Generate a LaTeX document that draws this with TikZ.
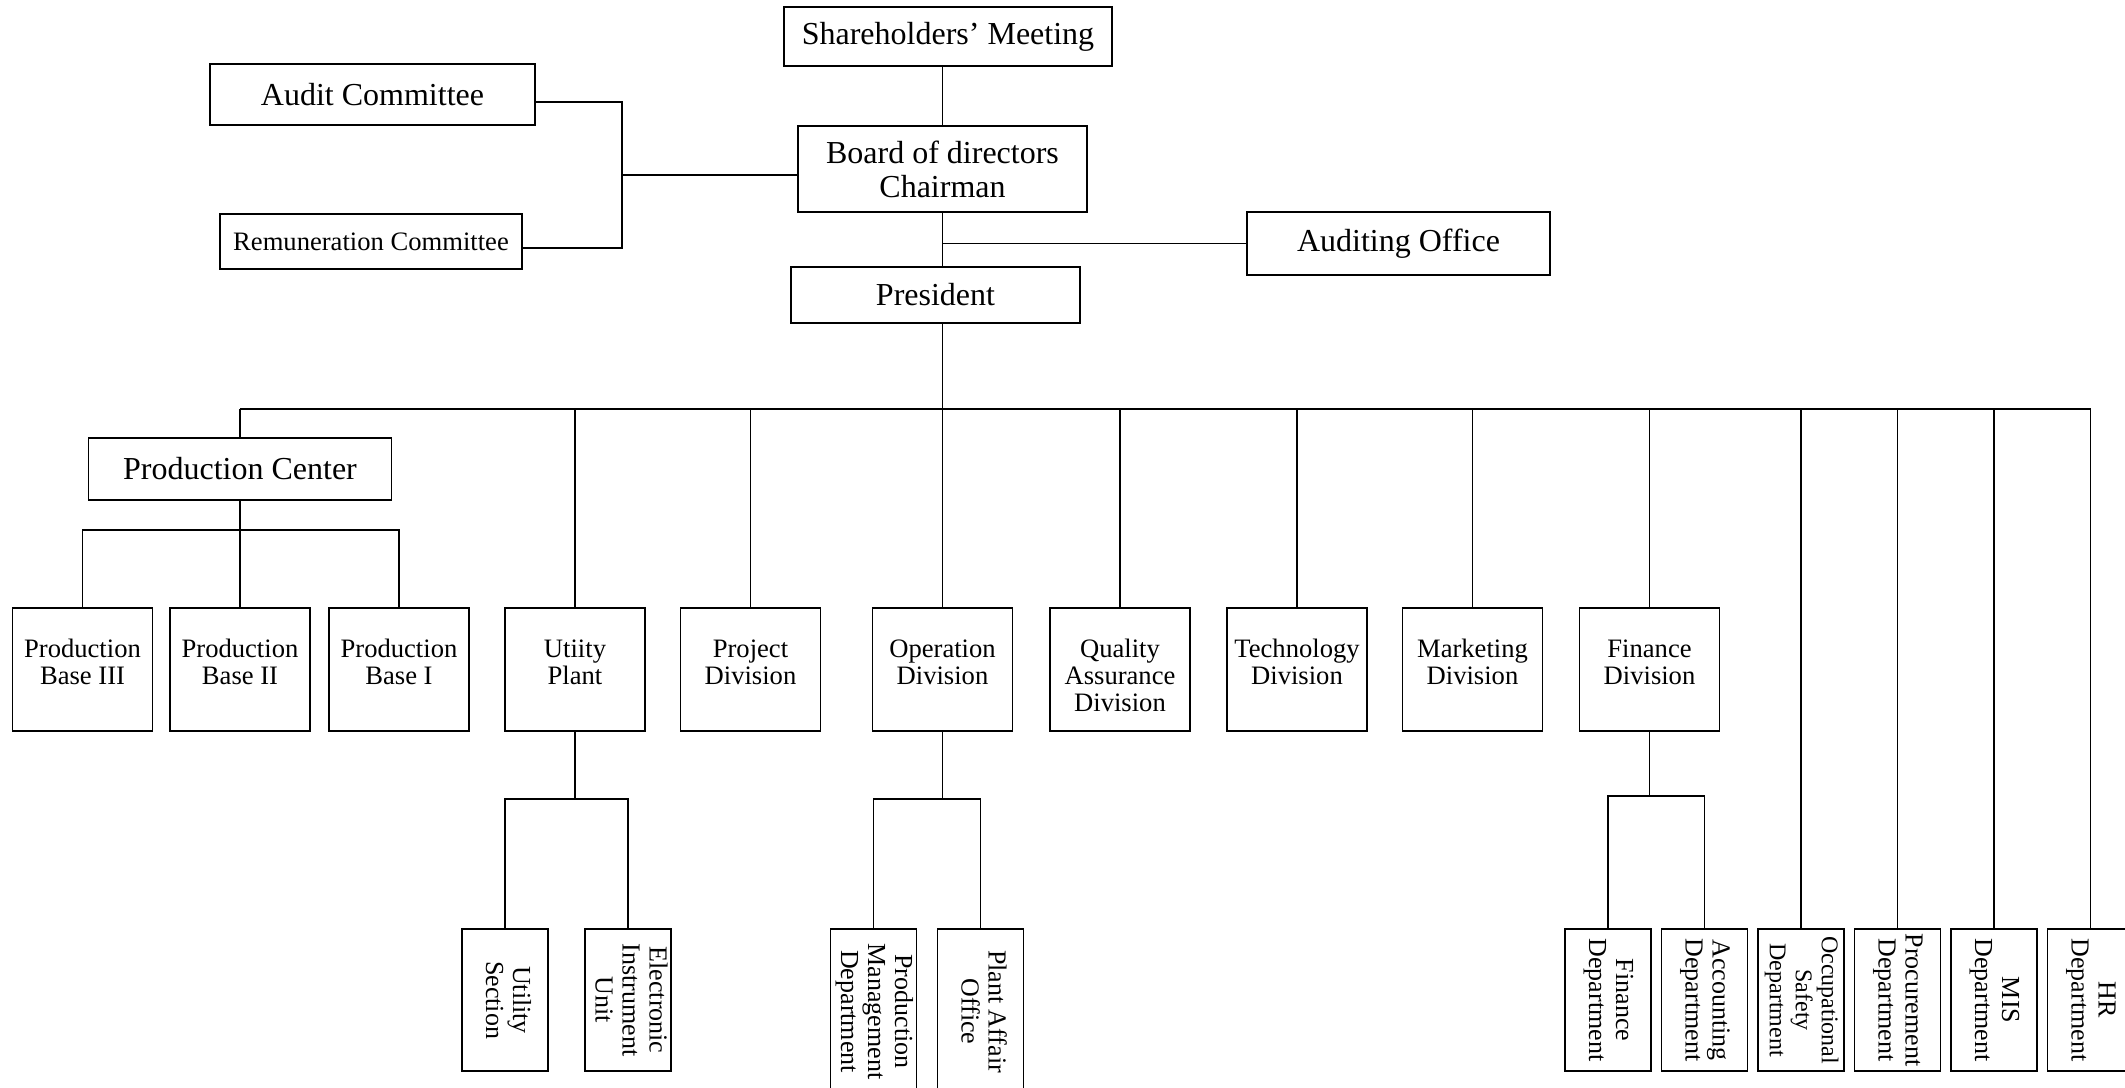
\documentclass[tikz,border=0pt]{standalone}
\usepackage{fontspec}
\setmainfont{Liberation Serif}
\usepackage{graphicx}
\usetikzlibrary{positioning}

\newcommand{\sidetext}[1]{\rotatebox{-90}{\begin{tabular}{@{}c@{}}#1\end{tabular}}}
\newcommand{\divtext}[1]{\begin{tabular}[t]{@{}c@{}}#1\end{tabular}}

\begin{document}
\begin{tikzpicture}
    [x=1pt, y=1pt,
    topbox/.style={rectangle, draw=black, line width=0.9pt, outer sep=0pt, text centered, align=center, font=\fontsize{16}{17}\selectfont},
    divbox/.style={rectangle, draw=black, line width=0.9pt, outer sep=0pt, minimum width=70pt, minimum height=61.5pt, inner sep=2pt, text height=22.8pt, text depth=34.7pt, font=\fontsize{13.3}{13.5}\selectfont},
    deptbox/.style={rectangle, draw=black, line width=0.9pt, outer sep=0pt, minimum width=43pt, minimum height=71pt, inner sep=0pt, font=\fontsize{13}{13.5}\selectfont},
    link/.style={line width=0.75pt}]
    \useasboundingbox (0,0) rectangle (1062.5,-543.5);
    \clip (0,0) rectangle (1062.5,-543.5);

    \node (board) at (471.25,-84.5) [topbox, minimum width=144.5pt, minimum height=43pt] {Board of directors\\Chairman};
    \node (meeting) [topbox, above=30pt of board, xshift=2.75pt, minimum width=164pt, minimum height=29.5pt] {Shareholders' Meeting};
    \draw[link] (board.north) -- (board.north |- meeting.south);

    \node (audit) [topbox, left=131.5pt of board, yshift=37.25pt, minimum width=162.5pt, minimum height=30.5pt] {Audit Committee};
    \node (remun) [topbox, below=44.5pt of audit, xshift=-0.75pt, minimum width=151pt, minimum height=27.5pt, font=\fontsize{13.3}{14}\selectfont] {Remuneration Committee};
    \coordinate [left=88pt of board.west, yshift=-3pt] (brk);
    \draw[link] ([yshift=-3pt]board.west) -- (brk);
    \draw[link] ([yshift=-3.75pt]audit.east) -| (brk) |- ([yshift=-3.25pt]remun.east);

    \node (president) [topbox, below=27.5pt of board, xshift=-3.5pt, minimum width=144.5pt, minimum height=28pt] {President};
    \draw[link] (board.south) -- (board.south |- president.north);
    \node (office) [topbox, right=80pt of board, yshift=-37.25pt, minimum width=151.5pt, minimum height=31.5pt] {Auditing Office};
    \draw[link] (office.west) -- (office.west -| board.south);

    \coordinate [below=98.5pt of board] (bus);
    \draw[link] (president.south -| bus) -- (bus);

    % divisions
    \node (base3) at (41.25,-334.75) [divbox] {\divtext{Production\\Base III}};
    \node (base2) [divbox, right=8.75pt of base3] {\divtext{Production\\Base II}};
    \node (base1) [divbox, right=9.5pt of base2] {\divtext{Production\\Base I}};
    \node (utility) [divbox, right=18pt of base1] {\divtext{Utiity\\Plant}};
    \node (project) [divbox, right=17.75pt of utility] {\divtext{Project\\Division}};
    \node (operation) [divbox, right=26pt of project] {\divtext{Operation\\Division}};
    \node (quality) [divbox, right=18.75pt of operation] {\divtext{Quality\\Assurance\\Division}};
    \node (technology) [divbox, right=18.5pt of quality] {\divtext{Technology\\Division}};
    \node (marketing) [divbox, right=17.75pt of technology] {\divtext{Marketing\\Division}};
    \node (findiv) [divbox, right=18.5pt of marketing] {\divtext{Finance\\Division}};

    \node (prodcenter) [topbox, above=54pt of base2, minimum width=151.5pt, minimum height=31pt] {Production Center};
    \draw[link] (prodcenter.south) -- ++(0,-15) coordinate (pcbus);
    \draw[link] (base3.north) |- (pcbus) -| (base1.north);
    \draw[link] (pcbus) -- (base2.north);

    % departments
    \node (usection) [deptbox, below=99pt of utility, xshift=-35pt] {\sidetext{Utility\\Section}};
    \node (instrument) [deptbox, right=18.5pt of usection] {\sidetext{Electronic\\Instrument\\Unit}};
    \draw[link] (utility.south) -- ++(0,-34) coordinate (ubus);
    \draw[link] (usection.north) |- (ubus) -| (instrument.north);

    \node (prodmgmt) [deptbox, minimum height=82.5pt, below=99pt of operation, xshift=-34.5pt] {\sidetext{Production\\Management\\Department}};
    \node (plant) [deptbox, minimum height=82.5pt, right=10.5pt of prodmgmt] {\sidetext{Plant Affair\\Office}};
    \draw[link] (operation.south) -- ++(0,-34) coordinate (obus);
    \draw[link] (prodmgmt.north) |- (obus) -| (plant.north);

    \node (finance) [deptbox, below=99pt of findiv, xshift=-20.75pt] {\sidetext{Finance\\Department}};
    \node (accounting) [deptbox, right=5.25pt of finance] {\sidetext{Accounting\\Department}};
    \node (safety) [deptbox, right=5.25pt of accounting, font=\fontsize{12}{13}\selectfont] {\sidetext{Occupational\\Safety\\Department}};
    \node (procurement) [deptbox, right=5.25pt of safety] {\sidetext{Procurement\\Department}};
    \node (mis) [deptbox, right=5.25pt of procurement] {\sidetext{MIS\\Department}};
    \node (hr) [deptbox, right=5.25pt of mis] {\sidetext{HR\\Department}};
    \draw[link] (findiv.south) -- ++(0,-32.5) coordinate (fbus);
    \draw[link] (finance.north) |- (fbus) -| (accounting.north);

    \draw[link] (prodcenter.north |- bus) -- (hr.north |- bus);
    \foreach \n in {prodcenter,utility,project,operation,quality,technology,marketing,findiv,safety,procurement,mis,hr}
      \draw[link] (\n.north) -- (\n.north |- bus);

\end{tikzpicture}
\end{document}
